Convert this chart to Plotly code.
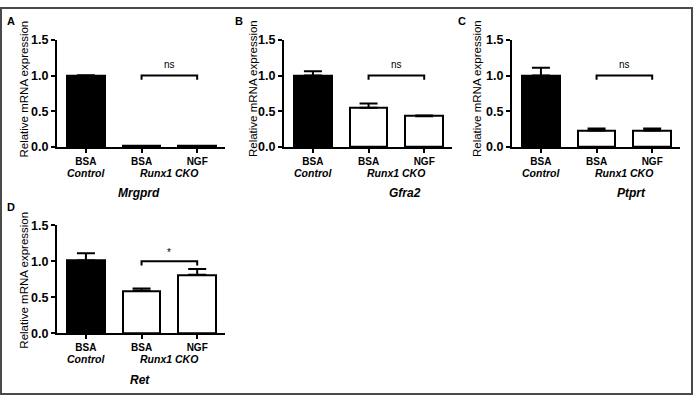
import plotly.graph_objects as go

W, H = 693, 402

# ---------------- data ----------------
categories = ["BSA", "BSA", "NGF"]
group_labels = ["Control", "Runx1 CKO"]
genes = ["Mrgprd", "Gfra2", "Ptprt", "Ret"]
panel_letters = ["A", "B", "C", "D"]

mrgprd_mean = [1.00, 0.01, 0.01]
mrgprd_err = [0.005, 0.0, 0.0]
gfra2_mean = [1.00, 0.55, 0.43]
gfra2_err = [0.06, 0.06, 0.01]
ptprt_mean = [1.00, 0.23, 0.23]
ptprt_err = [0.11, 0.03, 0.03]
ret_mean = [1.01, 0.59, 0.81]
ret_err = [0.10, 0.03, 0.08]

significance = ["ns", "ns", "ns", "*"]

y_ticks = [0.0, 0.5, 1.0, 1.5]

means = [mrgprd_mean, gfra2_mean, ptprt_mean, ret_mean]
errs = [mrgprd_err, gfra2_err, ptprt_err, ret_err]

# ---------------- layout geometry (pixels) ----------------
panels_px = [
    dict(x0=57, y0=145, y1=34, gene_x=0.95, letter=(17, 15), title=(24.5, 85)),
    dict(x0=284, y0=145, y1=34, gene_x=1.65, letter=(245, 15), title=(253, 85)),
    dict(x0=512, y0=145, y1=34, gene_x=1.62, letter=(468, 15), title=(477, 85)),
    dict(x0=57, y0=338, y1=226, gene_x=0.97, letter=(17, 207), title=(24.5, 283)),
]
AX_LEN = 168
XR = [-0.52, 2.5]

FONT = "Liberation Sans, Arial, sans-serif"

fig = go.Figure()
annotations = []

def px_x(p):
    return p / W

def px_y(p):
    return 1 - p / H

for i, P in enumerate(panels_px):
    n = "" if i == 0 else str(i + 1)
    xa, ya = "x" + n, "y" + n
    colors = ["black", "white", "white"]
    fig.add_trace(go.Bar(
        x=[0, 1, 2], y=means[i], width=0.68,
        marker=dict(color=colors, line=dict(color="black", width=2)),
        error_y=dict(type="data", symmetric=False, array=errs[i],
                     arrayminus=[0, 0, 0], color="black", thickness=2, width=9),
        xaxis=xa, yaxis=ya, showlegend=False, hoverinfo="skip",
    ))
    # significance bracket
    fig.add_trace(go.Scatter(
        x=[1, 1, 2, 2], y=[0.94, 1.0, 1.0, 0.94], mode="lines",
        line=dict(color="black", width=2), xaxis=xa, yaxis=ya,
        showlegend=False, hoverinfo="skip", cliponaxis=False,
    ))
    sig_y = 1.15 if significance[i] == "ns" else 1.12
    annotations.append(dict(x=1.5, y=sig_y, xref=xa, yref=ya, text=significance[i],
                            showarrow=False, font=dict(family=FONT, size=10, color="black"),
                            yanchor="middle"))

    key = "xaxis" + n
    ykey = "yaxis" + n
    fig.update_layout(**{
        key: dict(domain=[px_x(P["x0"]), px_x(P["x0"] + AX_LEN)], range=XR,
                  anchor=ya, showgrid=False, zeroline=False, showline=True,
                  linecolor="black", linewidth=2, ticks="outside", ticklen=4,
                  tickwidth=2, tickcolor="black", tickvals=[0, 1, 2],
                  ticktext=categories, tickangle=0,
                  tickfont=dict(family=FONT, size=10, color="black", weight="bold")),
        ykey: dict(domain=[px_y(P["y0"]), px_y(P["y1"])], range=[0, 1.5],
                   anchor=xa, showgrid=False, zeroline=False, showline=True,
                   linecolor="black", linewidth=2, ticks="outside", ticklen=4,
                   tickwidth=2, tickcolor="black", tickvals=y_ticks,
                   tickformat=".1f",
                   tickfont=dict(family=FONT, size=12.5, color="black", weight="bold")),
    })

    # group labels
    for gx, gl in zip([0, 1.5], group_labels):
        annotations.append(dict(x=gx, y=px_y(P["y0"] + 27), xref=xa, yref="paper",
                                text="<b><i>%s</i></b>" % gl, showarrow=False,
                                font=dict(family=FONT, size=10.5, color="black"),
                                yanchor="middle"))
    # gene name
    annotations.append(dict(x=P["gene_x"], y=px_y(P["y0"] + 48), xref=xa, yref="paper",
                            text="<b><i>%s</i></b>" % genes[i], showarrow=False,
                            font=dict(family=FONT, size=12, color="black"),
                            yanchor="middle"))
    # panel letter
    lx, ly = P["letter"]
    annotations.append(dict(x=px_x(lx), y=px_y(ly), xref="paper", yref="paper",
                            text="<b>%s</b>" % panel_letters[i], showarrow=False,
                            font=dict(family=FONT, size=11, color="black"),
                            xanchor="right", yanchor="middle"))
    # y axis title
    tx, ty = P["title"]
    annotations.append(dict(x=px_x(tx), y=px_y(ty), xref="paper", yref="paper",
                            text="Relative mRNA expression", showarrow=False,
                            textangle=-90,
                            font=dict(family=FONT, size=11.5, color="black"),
                            xanchor="center", yanchor="middle"))

fig.update_layout(
    width=W, height=H,
    margin=dict(l=0, r=0, t=0, b=0),
    paper_bgcolor="white", plot_bgcolor="white",
    annotations=annotations,
    bargap=0,
    shapes=[dict(type="rect", xref="paper", yref="paper",
                 x0=1 / W, x1=1 - 1 / W, y0=1 / H, y1=1 - 1 / H,
                 line=dict(color="#4a4a4a", width=2))],
)

fig.write_html(
    "out.html",
    config={"displayModeBar": False, "responsive": False},
    post_script=(
        "document.documentElement.style.margin='0';"
        "document.documentElement.style.padding='0';"
        "document.documentElement.style.overflow='hidden';"
        "document.body.style.margin='0';"
        "document.body.style.padding='0';"
        "document.body.style.overflow='hidden';"
    ),
)
